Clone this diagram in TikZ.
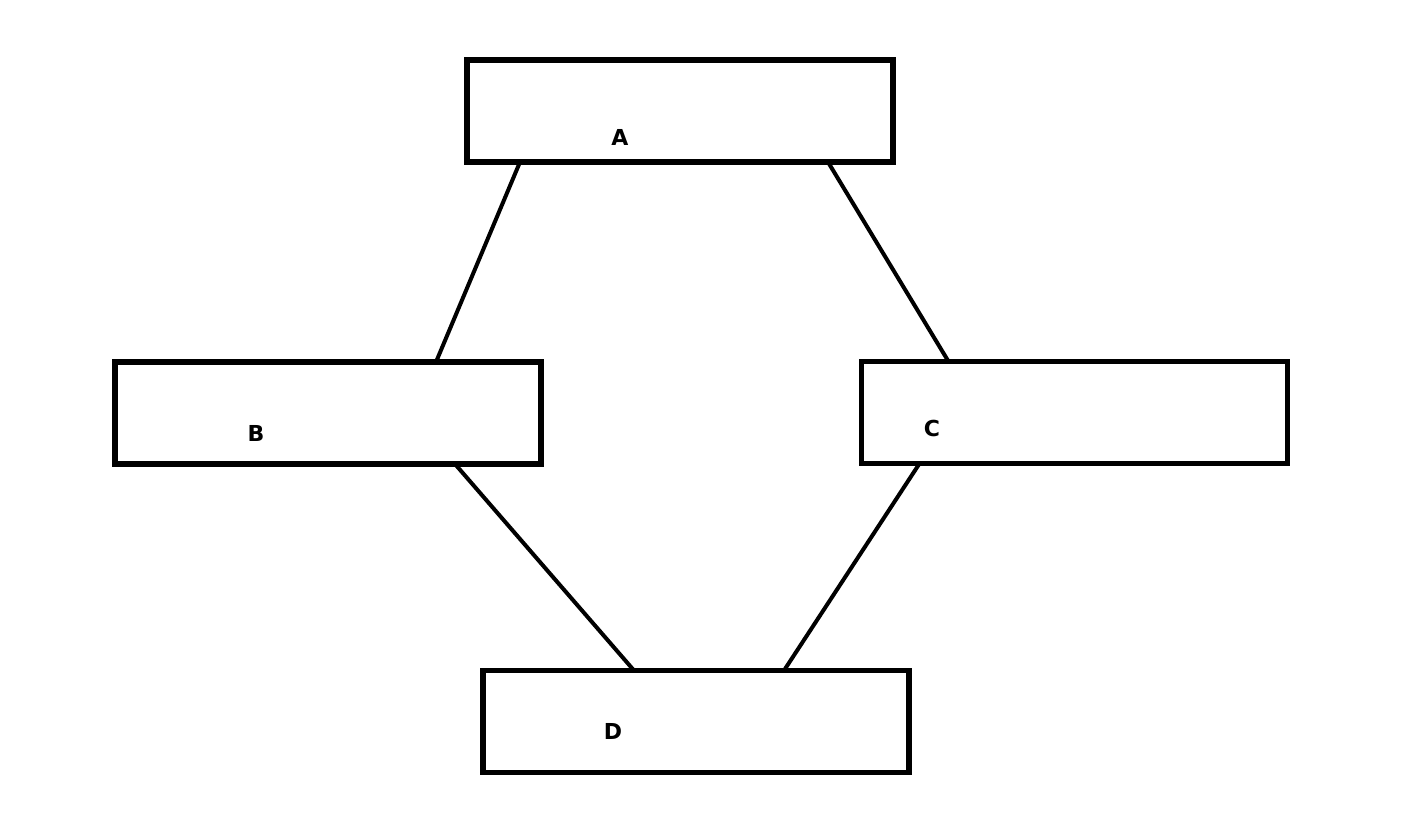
\documentclass[tikz,border=0pt]{standalone}
\usepackage{fontspec}
\setmainfont{DejaVu Sans}
\usetikzlibrary{calc}
\begin{document}
\begin{tikzpicture}[x=0.5pt,y=-0.5pt,
  box/.style={draw=black,line width=2.6pt,minimum width=213pt,minimum height=51pt,inner sep=0pt,outer sep=0pt},
  lbl/.style={font=\bfseries\fontsize{11}{13}\selectfont,inner sep=0pt},
  conn/.style={line width=2pt}]
\useasboundingbox (0,0) rectangle (1408,837);
\node[box] (A) at (680,111) {};
\node[box] (B) at (328,413) {};
\node[box] (C) at (1074.5,412.5) {};
\node[box] (D) at (696,721.5) {};
\node[lbl] (la) at (620,137) {A};
\node[lbl] (lb) at (256,433) {B};
\node[lbl] (lc) at (932,428) {C};
\node[lbl] (ld) at (613,731) {D};
\coordinate (ab) at ($(A.south west)+(53,0)$);
\coordinate (ba) at ($(B.north west)+(321,0)$);
\coordinate (ac) at ($(A.south west)+(361,0)$);
\coordinate (ca) at ($(C.north west)+(87,0)$);
\coordinate (bd) at ($(B.south west)+(340,0)$);
\coordinate (db) at ($(D.north west)+(151,0)$);
\coordinate (cd) at ($(C.south west)+(58,0)$);
\coordinate (dc) at ($(D.north west)+(301,0)$);
\draw[conn] (ab) -- (ba);
\draw[conn] (ac) -- (ca);
\draw[conn] (bd) -- (db);
\draw[conn] (cd) -- (dc);
\end{tikzpicture}
\end{document}
